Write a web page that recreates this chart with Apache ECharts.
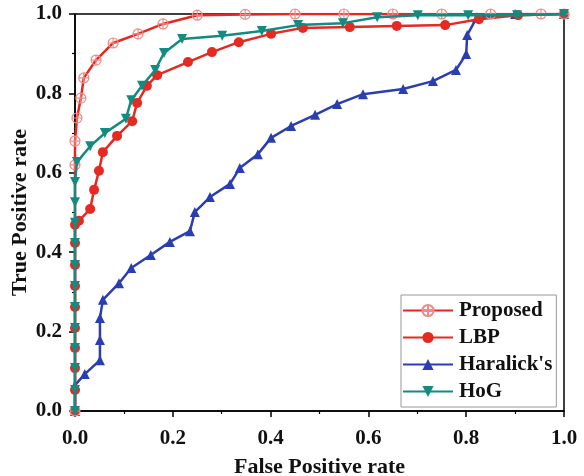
<!DOCTYPE html>
<html lang="en">
<head>
<meta charset="UTF-8">
<title>ROC</title>
<script src="https://cdn.jsdelivr.net/npm/echarts@6/dist/echarts.min.js"></script>
<style>
  html, body { margin: 0; padding: 0; background: #fff; }
  #main { width: 584px; height: 476px; }
</style>
</head>
<body>
<div id="main"></div>
<script type="text/javascript">
    // points are [false positive rate, true positive rate]
    var proposed = [[0, 0], [0, 0.62], [0, 0.68], [0.004, 0.738], [0.012, 0.788], [0.018, 0.839], [0.043, 0.884],
        [0.078, 0.927], [0.129, 0.95], [0.18, 0.975], [0.25, 0.997], [0.348, 0.999], [0.45, 1], [0.55, 1],
        [0.65, 1], [0.75, 1], [0.85, 1], [0.953, 1], [1, 1]];
    var lbp = [[0, 0], [0, 0.053], [0, 0.108], [0, 0.159], [0, 0.209], [0, 0.262], [0, 0.315], [0, 0.368],
        [0, 0.423], [0, 0.469], [0.008, 0.479], [0.031, 0.509], [0.039, 0.557], [0.049, 0.605], [0.057, 0.652],
        [0.086, 0.693], [0.117, 0.73], [0.127, 0.776], [0.147, 0.819], [0.168, 0.846], [0.231, 0.879],
        [0.28, 0.904], [0.335, 0.929], [0.401, 0.95], [0.466, 0.965], [0.562, 0.967], [0.658, 0.97],
        [0.757, 0.972], [0.826, 0.987], [0.906, 0.997], [1, 1]];
    var haralick = [[0, 0], [0, 0.065], [0.02, 0.093], [0.051, 0.128], [0.051, 0.179], [0.051, 0.234],
        [0.057, 0.28], [0.09, 0.322], [0.115, 0.36], [0.155, 0.393], [0.194, 0.426], [0.235, 0.453],
        [0.245, 0.501], [0.276, 0.539], [0.317, 0.572], [0.337, 0.612], [0.374, 0.647], [0.401, 0.688],
        [0.442, 0.718], [0.491, 0.746], [0.536, 0.773], [0.589, 0.798], [0.671, 0.811], [0.732, 0.831],
        [0.779, 0.859], [0.8, 0.899], [0.802, 0.947], [0.822, 0.992], [0.9, 1], [1, 1]];
    var hog = [[0, 0], [0, 0.053], [0, 0.108], [0, 0.159], [0, 0.209], [0, 0.262], [0, 0.315], [0, 0.368],
        [0, 0.423], [0, 0.474], [0, 0.526], [0, 0.577], [0.004, 0.627], [0.031, 0.667], [0.061, 0.7],
        [0.104, 0.736], [0.115, 0.783], [0.137, 0.819], [0.164, 0.859], [0.182, 0.902], [0.219, 0.937],
        [0.301, 0.945], [0.382, 0.957], [0.456, 0.972], [0.548, 0.977], [0.618, 0.992], [0.701, 0.997],
        [0.804, 0.997], [0.904, 0.997], [1, 1]];
    var seriesNames = ['Proposed', 'LBP', "Haralick's", 'HoG'];

    var font = 'Liberation Serif';
    var circlePlus = 'path://M0,-10A10,10,0,1,1,0,10A10,10,0,1,1,0,-10ZM-10,0L10,0M0,-10L0,10';
    var downTri = 'path://M0,0L10,0L5,9Z';
    var upTri = 'path://M5,0L10,9L0,9Z';

    function makeSeries(name, data, color, symbol, size, z, hollow) {
        return {
            name: name,
            type: 'line',
            data: data,
            z: z,
            symbol: symbol,
            symbolSize: size,
            showAllSymbol: true,
            lineStyle: { color: color, width: 2.5 },
            itemStyle: hollow ? { color: 'rgba(255,255,255,0)', borderColor: '#f08a84', borderWidth: 1.2 }
                              : { color: color, borderWidth: 0 },
            emphasis: { disabled: true },
            animation: false
        };
    }

    var axisBase = {
        type: 'value', min: 0, max: 1, interval: 0.2,
        nameLocation: 'middle',
        nameMoveOverlap: false,
        nameTextStyle: { fontFamily: font, fontWeight: 'bold', fontSize: 22, color: '#111' },
        axisLine: { onZero: false, lineStyle: { color: '#000', width: 1.5 } },
        axisTick: { inside: false, length: 6, lineStyle: { color: '#000', width: 1.5 } },
        minorTick: { show: true, splitNumber: 2, length: 3, lineStyle: { color: '#000', width: 1.2 } },
        splitLine: { show: false }
    };

    var chart = echarts.init(document.getElementById('main'));
    var option = {
        animation: false,
        textStyle: { fontFamily: font },
        grid: {
            left: 75, right: 20, top: 14, bottom: 65,
            outerBoundsMode: 'none', containLabel: false,
            show: true, borderColor: '#000', borderWidth: 1.5, backgroundColor: '#fff'
        },
        legend: {
            data: seriesNames,
            orient: 'vertical',
            left: 401, top: 295,
            padding: [5, 4, 5, 1],
            itemWidth: 50, itemHeight: 14, itemGap: 6,
            borderColor: '#999', borderWidth: 1, backgroundColor: '#fff',
            textStyle: { fontFamily: font, fontWeight: 'bold', fontSize: 21, color: '#111', padding: [0, 0, 0, 1] }
        },
        xAxis: Object.assign({}, axisBase, {
            name: 'False Positive rate', nameGap: 45,
            axisLabel: {
                margin: 17, fontFamily: font, fontWeight: 'bold', fontSize: 21, color: '#111',
                formatter: function (v) { return v.toFixed(1); }
            }
        }),
        yAxis: Object.assign({}, axisBase, {
            name: 'True Positive rate', nameGap: 44,
            axisLabel: {
                margin: 13, fontFamily: font, fontWeight: 'bold', fontSize: 21, color: '#111',
                formatter: function (v) { return v.toFixed(1); }
            }
        }),
        series: [
            makeSeries(seriesNames[0], proposed, '#e8251f', circlePlus, 10, 3, true),
            makeSeries(seriesNames[1], lbp, '#e52a22', 'circle', 10, 2, false),
            makeSeries(seriesNames[2], haralick, '#2a3eb1', upTri, 10, 1, false),
            makeSeries(seriesNames[3], hog, '#138b80', downTri, 10, 4, false)
        ]
    };
    chart.setOption(option);
</script>
</body>
</html>
